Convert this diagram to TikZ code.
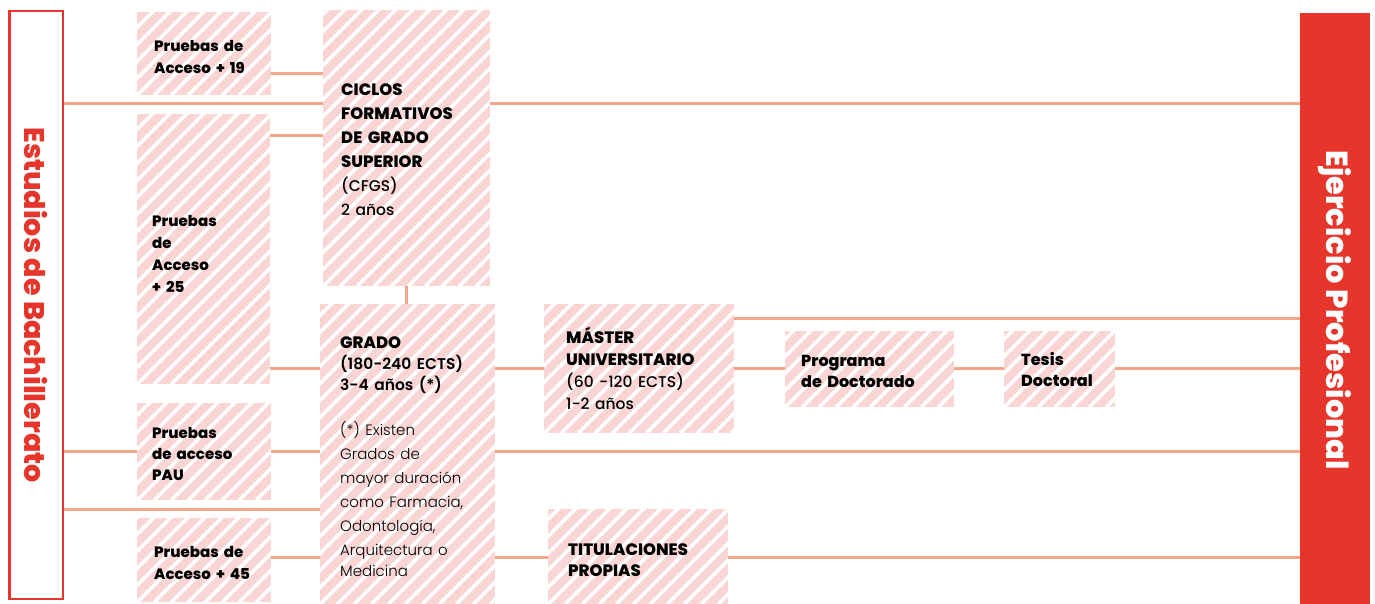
\documentclass[tikz,border=0pt]{standalone}
\usepackage{fontspec}
\setmainfont{Poppins}[BoldFont={Poppins ExtraBold}]
\newfontfamily\lightfont{Poppins Light}
\newfontfamily\semifont{Poppins SemiBold}
\newfontfamily\medfont{Poppins Medium}
\usetikzlibrary{calc}
\definecolor{redE}{HTML}{E6352B}
\definecolor{pinkS}{HTML}{F9D5D4}
\definecolor{lineC}{HTML}{F4A68B}
\newcommand\myB{\bfseries\fontsize{15}{22}\selectfont}
\newcommand\myC[1]{\bfseries\fontsize{16.5}{#1}\selectfont}
\newcommand\myR[1]{\medfont\mdseries\fontsize{15.5}{#1}\selectfont}
\newcommand\myS{\semifont\mdseries\fontsize{15.5}{21}\selectfont}
\newcommand\myL{\lightfont\mdseries\fontsize{15}{24}\selectfont}
\tikzset{
  hbox/.style={rectangle, fill=pinkS, anchor=north west, inner ysep=0pt, align=left,
    font=\myB,
    path picture={\foreach \k in {-20,...,13}{\draw[white,line width=3.6pt]
      ([xshift=\k*17pt]path picture bounding box.south west) -- ++(400pt,400pt);}}},
  lower/.style={execute at begin node={\rule{0pt}{#1}}},
  conn/.style={draw=lineC, line width=3pt},
  sidetext/.style={rotate=-90, inner sep=0pt},
}
\begin{document}
\begin{tikzpicture}[x=1pt,y=-1pt]
\useasboundingbox (0,0) rectangle (1375,604);
\fill[white] (0,0) rectangle (1375,604);

% side bars
\node[sidetext, draw=redE, line width=2.5pt, text=redE, minimum width=587.5pt, minimum height=53.5pt, font=\bfseries\fontsize{28.5}{28}\selectfont] (bach) at (36,305) {Estudios de Bachillerato};
\node[sidetext, fill=redE, text=white, minimum width=594pt, minimum height=70pt, font=\bfseries\fontsize{30.5}{30}\selectfont] (ejer) at (1335,310) {Ejercicio Profesional};

% boxes
\node[hbox, lower=17pt, minimum width=134pt, minimum height=83pt, text width=100pt, inner xsep=17pt] (p19) at (137,12) {Pruebas de\\Acceso + 19};
\node[hbox, lower=21pt, minimum width=133pt, minimum height=270pt, text width=103pt, inner xsep=15pt] (p25) at (137,114) {Pruebas\\de\\Acceso\\+ 25};
\node[hbox, lower=15pt, minimum width=134pt, minimum height=97pt, text width=104pt, inner xsep=15pt, font=\bfseries\fontsize{15}{21}\selectfont] (pau) at (137,403) {Pruebas\\de acceso\\PAU};
\node[hbox, lower=17pt, minimum width=134pt, minimum height=84pt, text width=100pt, inner xsep=17pt] (p45) at (137,518) {Pruebas de\\Acceso + 45};
\node[hbox, lower=14pt, minimum width=167pt, minimum height=276pt, text width=131pt, inner xsep=18pt, font=\myC{24}] (cfgs) at (323,10)
  {CICLOS\\FORMATIVOS\\DE GRADO\\SUPERIOR\\\myR{24}(CFGS)\\\myR{24}2 años};
\node[hbox, lower=16pt, minimum width=175pt, minimum height=300pt, text width=135pt, inner xsep=20pt, font=\myC{21}] (grado) at (320,304)
  {GRADO\\\myS (180-240 ECTS)\\\myS 3-4 años (*)\\[21pt]
   \myL (*) Existen\\
   \myL Grados de\\
   \myL mayor duración\\
   \myL como Farmacia,\\
   \myL Odontología,\\
   \myL Arquitectura o\\
   \myL Medicina};
\node[hbox, minimum width=190pt, minimum height=129pt, text width=146pt, inner xsep=22pt, font=\myC{22}] (master) at (544,304)
  {MÁSTER\\UNIVERSITARIO\\\myR{22}(60 -120 ECTS)\\\myR{21}1-2 años};
\node[hbox, lower=16pt, minimum width=169pt, minimum height=76pt, text width=137pt, inner xsep=16pt, font=\bfseries\fontsize{16}{21}\selectfont] (prog) at (785,331) {Programa\\de Doctorado};
\node[hbox, minimum width=111pt, minimum height=76pt, text width=77pt, inner xsep=17pt, font=\bfseries\fontsize{16}{21}\selectfont] (tesis) at (1004,331) {Tesis\\Doctoral};
\node[hbox, lower=18pt, minimum width=180pt, minimum height=95pt, text width=140pt, inner xsep=20pt, font=\myC{21}] (tit) at (548,509) {TITULACIONES\\PROPIAS};

% connectors
\draw[conn] (p19.east |- 0,74) -- (cfgs.west |- 0,74);
\draw[conn] (bach.north |- 0,104) -- (cfgs.west |- 0,104);
\draw[conn] (cfgs.east |- 0,104) -- (ejer.south |- 0,104);
\draw[conn] (p25.east |- 0,136) -- (cfgs.west |- 0,136);
\draw[conn] (cfgs.south) -- (cfgs.south |- grado.north);
\draw[conn] (p25.east |- 0,368) -- (grado.west |- 0,368);
\draw[conn] (grado.east |- 0,368) -- (master.west |- 0,368);
\draw[conn] (master.east |- 0,368) -- (prog.west |- 0,368);
\draw[conn] (prog.east |- 0,368) -- (tesis.west |- 0,368);
\draw[conn] (tesis.east |- 0,368) -- (ejer.south |- 0,368);
\draw[conn] (master.east |- 0,318) -- (ejer.south |- 0,318);
\draw[conn] (bach.north |- 0,451) -- (pau.west |- 0,451);
\draw[conn] (pau.east |- 0,451) -- (grado.west |- 0,451);
\draw[conn] (grado.east |- 0,451) -- (ejer.south |- 0,451);
\draw[conn] (bach.north |- 0,509) -- (grado.west |- 0,509);
\draw[conn] (p45.east |- 0,557) -- (grado.west |- 0,557);
\draw[conn] (grado.east |- 0,557) -- (tit.west |- 0,557);
\draw[conn] (tit.east |- 0,557) -- (ejer.south |- 0,557);
\end{tikzpicture}
\end{document}
